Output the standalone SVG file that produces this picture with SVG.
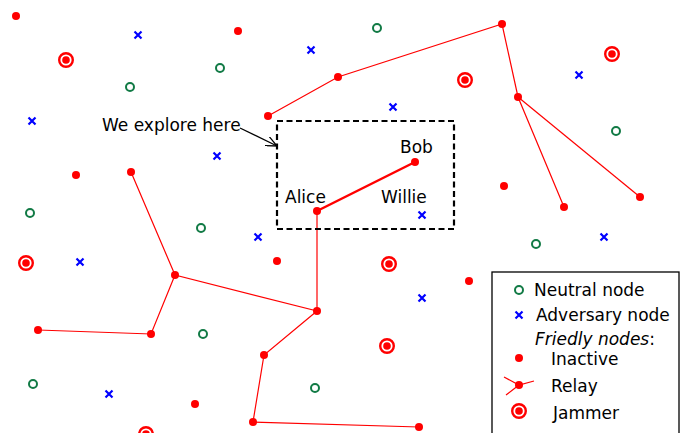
<svg xmlns="http://www.w3.org/2000/svg" width="681" height="433" viewBox="0 0 681 433">
<style>
.t{font-family:"DejaVu Sans",sans-serif;font-size:17px;fill:#000}
.e{stroke:#ff0000;stroke-width:1.2;fill:none}
.n{fill:none;stroke:#117a45;stroke-width:2}
.a{stroke:#0000ff;stroke-width:2.2}
.d{fill:#ff0000}
.j{fill:none;stroke:#ff0000;stroke-width:2.4}
</style>
<defs>
<g id="adv"><path class="a" d="M-3.5,-3.5L3.5,3.5M-3.5,3.5L3.5,-3.5"/></g>
<g id="jam"><circle r="6.8" class="j"/><circle r="3.8" class="d"/></g>
<marker id="arr" viewBox="0 0 12 10" refX="11" refY="5" markerWidth="12" markerHeight="10" markerUnits="userSpaceOnUse" orient="auto"><path d="M0,0L11,5L0,10" fill="none" stroke="#000" stroke-width="1.3"/></marker>
</defs>
<rect width="681" height="433" fill="#fff"/>
<g id="connectors">
<polyline class="e" points="268,116 338,77 502,24 518,97 564,207"/>
<line class="e" x1="518" y1="97" x2="640" y2="197"/>
<line class="e" x1="317" y1="211" x2="415" y2="162" style="stroke-width:2.4"/>
<line class="e" x1="317" y1="211" x2="317" y2="311"/>
<polyline class="e" points="131,172 175,275 317,311 264,355 253,422 419,427"/>
<polyline class="e" points="175,275 151,334 38,330"/>
<line x1="240" y1="128" x2="277" y2="146" stroke="#000" stroke-width="1.3" marker-end="url(#arr)"/>
</g>
<g id="focus-box"><rect x="277" y="121" width="177" height="108" fill="none" stroke="#000" stroke-width="2.2" stroke-dasharray="6,3.5"/></g>
<g id="inactive">
<circle cx="16" cy="16" r="4" class="d"/><circle cx="238" cy="31" r="4" class="d"/><circle cx="76" cy="175" r="4" class="d"/><circle cx="504" cy="186" r="4" class="d"/><circle cx="277" cy="261" r="4" class="d"/><circle cx="469" cy="281" r="4" class="d"/><circle cx="195" cy="404" r="4" class="d"/>
</g>
<g id="relays">
<circle cx="502" cy="24" r="4" class="d"/><circle cx="338" cy="77" r="4" class="d"/><circle cx="268" cy="116" r="4" class="d"/><circle cx="518" cy="97" r="4" class="d"/><circle cx="564" cy="207" r="4" class="d"/><circle cx="640" cy="197" r="4" class="d"/><circle cx="415" cy="162" r="4" class="d"/><circle cx="317" cy="211" r="4" class="d"/><circle cx="131" cy="172" r="4" class="d"/><circle cx="175" cy="275" r="4" class="d"/><circle cx="317" cy="311" r="4" class="d"/><circle cx="151" cy="334" r="4" class="d"/><circle cx="38" cy="330" r="4" class="d"/><circle cx="264" cy="355" r="4" class="d"/><circle cx="253" cy="422" r="4" class="d"/><circle cx="419" cy="427" r="4" class="d"/>
</g>
<g id="jammers">
<use href="#jam" x="66" y="60"/><use href="#jam" x="465" y="80"/><use href="#jam" x="612" y="54"/><use href="#jam" x="26" y="263"/><use href="#jam" x="389" y="264"/><use href="#jam" x="387" y="346"/><use href="#jam" x="146" y="434"/>
</g>
<g id="neutral">
<circle cx="377" cy="28" r="4" class="n"/><circle cx="220" cy="68" r="4" class="n"/><circle cx="130" cy="87" r="4" class="n"/><circle cx="616" cy="131" r="4" class="n"/><circle cx="30" cy="213" r="4" class="n"/><circle cx="201" cy="228" r="4" class="n"/><circle cx="536" cy="244" r="4" class="n"/><circle cx="203" cy="334" r="4" class="n"/><circle cx="33" cy="384" r="4" class="n"/><circle cx="315" cy="388" r="4" class="n"/>
</g>
<g id="adversaries">
<use href="#adv" x="138" y="35"/><use href="#adv" x="311" y="50"/><use href="#adv" x="393" y="107"/><use href="#adv" x="32" y="121"/><use href="#adv" x="217" y="156"/><use href="#adv" x="258" y="237"/><use href="#adv" x="422" y="215"/><use href="#adv" x="80" y="262"/><use href="#adv" x="604" y="237"/><use href="#adv" x="422" y="298"/><use href="#adv" x="579" y="75"/><use href="#adv" x="109" y="394"/>
</g>
<g id="labels">
<text class="t" x="102" y="131">We explore here</text>
<text class="t" x="400" y="153">Bob</text>
<text class="t" x="285" y="203">Alice</text>
<text class="t" x="381" y="203">Willie</text>
</g>
<g id="legend">
<rect x="492" y="272" width="187" height="170" fill="#fff" stroke="#000" stroke-width="1.3"/>
<circle cx="519" cy="290" r="4" class="n"/>
<text class="t" x="534" y="296">Neutral node</text>
<use href="#adv" x="519" y="315"/>
<text class="t" x="536" y="321">Adversary node</text>
<text class="t" x="535" y="345"><tspan font-style="italic">Friedly nodes</tspan>:</text>
<circle cx="519" cy="358" r="4" class="d"/>
<text class="t" x="551" y="365">Inactive</text>
<path class="e" d="M504,377L519,385L534,381M519,385L506,395"/>
<circle cx="519" cy="385" r="4" class="d"/>
<text class="t" x="551" y="392">Relay</text>
<use href="#jam" x="519" y="411"/>
<text class="t" x="553" y="419">Jammer</text>
</g>
</svg>
